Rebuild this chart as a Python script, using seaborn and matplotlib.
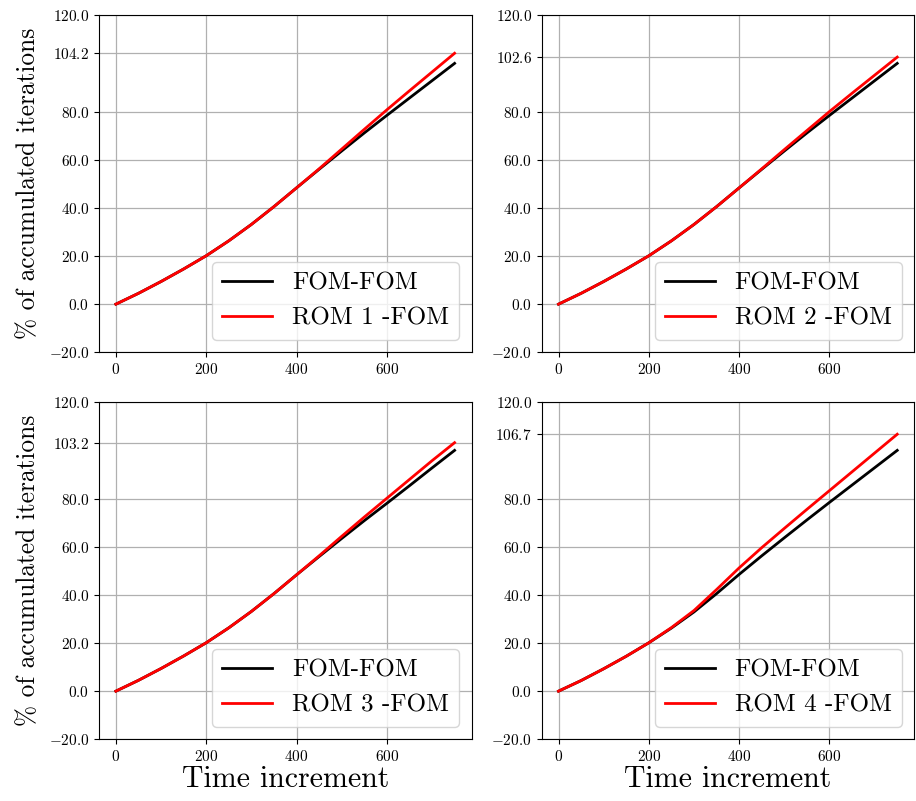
import matplotlib
matplotlib.use("Agg")
import matplotlib.pyplot as plt
import seaborn as sns
from matplotlib.ticker import FixedLocator, FuncFormatter

plt.rcParams['font.family'] = 'serif'
plt.rcParams['font.serif'] = ['cmr10', 'DejaVu Serif']
plt.rcParams['mathtext.fontset'] = 'cm'
plt.rcParams['axes.unicode_minus'] = False

# Data
time_increment = [0, 50, 100, 150, 200, 250, 300, 350, 400, 450, 500, 550, 600, 650, 700, 750]

fom_1 = [0, 4.5, 9.4, 14.6, 20.1, 26.3, 33.1, 40.5, 48.3, 56.0, 63.6, 71.1, 78.4, 85.6, 92.8, 100.0]
rom_1 = [0, 4.5, 9.4, 14.6, 20.1, 26.3, 33.1, 40.5, 48.3, 56.2, 64.4, 72.6, 80.7, 88.6, 96.4, 104.2]

fom_2 = [0, 4.5, 9.4, 14.6, 20.1, 26.3, 33.1, 40.5, 48.3, 56.0, 63.6, 71.1, 78.4, 85.6, 92.8, 100.0]
rom_2 = [0, 4.5, 9.4, 14.6, 20.1, 26.3, 33.1, 40.5, 48.3, 56.2, 64.2, 72.1, 80.0, 87.6, 95.1, 102.6]

fom_3 = [0, 4.5, 9.4, 14.6, 20.1, 26.3, 33.1, 40.5, 48.3, 55.9, 63.4, 70.8, 78.0, 85.3, 92.7, 100.0]
rom_3 = [0, 4.5, 9.4, 14.6, 20.1, 26.3, 33.1, 40.5, 48.3, 56.2, 64.3, 72.3, 80.1, 87.9, 95.7, 103.2]

fom_4 = [0, 4.4, 9.3, 14.5, 20.1, 26.2, 32.9, 40.5, 48.5, 56.2, 63.7, 71.1, 78.4, 85.6, 92.8, 100.0]
rom_4 = [0, 4.4, 9.3, 14.5, 20.1, 26.4, 33.5, 42.2, 51.2, 59.6, 67.6, 75.5, 83.3, 91.1, 98.9, 106.7]

rom_names = ["ROM 1 -FOM", "ROM 2 -FOM", "ROM 3 -FOM", "ROM 4 -FOM"]
final_values = [104.2, 102.6, 103.2, 106.7]
base_ticks = [-20.0, 0.0, 20.0, 40.0, 60.0, 80.0, 120.0]

fom_series = [fom_1, fom_2, fom_3, fom_4]
rom_series = [rom_1, rom_2, rom_3, rom_4]

fig, axes = plt.subplots(2, 2, figsize=(9.16, 8.01), dpi=100)
fig.subplots_adjust(left=0.108, right=0.998, top=0.981, bottom=0.077,
                    wspace=0.188, hspace=0.148)

fmt = FuncFormatter(lambda v, p: r"$%.1f$" % v)

for i, ax in enumerate(axes.flat):
    sns.lineplot(x=time_increment, y=fom_series[i], color='black', linewidth=2,
                 label='FOM-FOM', ax=ax)
    sns.lineplot(x=time_increment, y=rom_series[i], color='red', linewidth=2,
                 label=rom_names[i], ax=ax)
    ax.set_ylim(-20, 120)
    ticks = sorted(base_ticks + [final_values[i]])
    ax.yaxis.set_major_locator(FixedLocator(ticks))
    ax.yaxis.set_major_formatter(fmt)
    ax.set_xticks([0, 200, 400, 600])
    ax.xaxis.set_major_formatter(FuncFormatter(lambda v, p: r"$%d$" % v))
    ax.tick_params(labelsize=11)
    ax.grid(True, color='#b0b0b0', linewidth=0.9)
    ax.set_axisbelow(True)
    ax.legend(loc='lower right', fontsize=18, handlelength=2.0)
    if i % 2 == 0:
        ax.set_ylabel('% of accumulated iterations', fontsize=18.3, labelpad=6)
    if i >= 2:
        ax.set_xlabel('Time increment', fontsize=21.5, labelpad=1)

fig.savefig('out.png', dpi=100)
